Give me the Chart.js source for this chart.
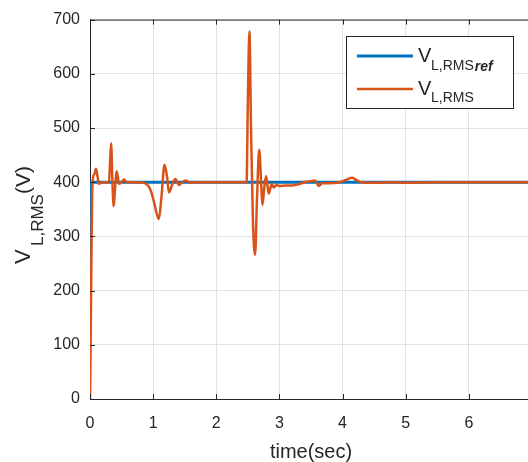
<!DOCTYPE html>
<html>
<head>
<meta charset="utf-8">
<script src="https://cdn.jsdelivr.net/npm/chart.js@4.4.0/dist/chart.umd.min.js"></script>
<style>
  html, body { margin: 0; padding: 0; background: #fff; overflow: hidden; width: 528px; height: 462px; }
  #wrap { position: absolute; left: 0; top: 0; width: 560px; height: 462px; }
</style>
</head>
<body>
<div id="wrap"><canvas id="chart" width="560" height="462"></canvas></div>
<script>
// reference RMS voltage
const refTime = [0, 0.005, 7.5];
const refVolt = [240, 400, 400];

// measured RMS voltage
const measTime = [0, 0.01, 0.02, 0.04, 0.07, 0.095, 0.12, 0.14, 0.2, 0.3, 0.315, 0.335, 0.355, 0.375, 0.395, 0.42, 0.44, 0.46, 0.5, 0.54, 0.58, 0.7, 0.84, 0.9, 0.95, 1.0, 1.05, 1.09, 1.13, 1.18, 1.22, 1.25, 1.3, 1.35, 1.41, 1.46, 1.52, 1.58, 1.7, 2.0, 2.3, 2.48, 2.5, 2.525, 2.55, 2.58, 2.615, 2.645, 2.68, 2.71, 2.73, 2.76, 2.79, 2.83, 2.88, 2.91, 2.95, 3.0, 3.1, 3.2, 3.3, 3.4, 3.5, 3.57, 3.62, 3.68, 3.8, 3.95, 4.05, 4.15, 4.22, 4.3, 4.5, 4.8, 5.0, 5.5, 6.0, 6.5, 7.0, 7.5];
const measVolt = [0, 100, 230, 400, 415, 425, 410, 397, 400, 400, 430, 472, 400, 356, 385, 420, 410, 397, 400, 405, 400, 400, 399, 396, 388, 370, 345, 332, 370, 432, 410, 381, 395, 406, 395, 400, 403, 399, 400, 400, 400, 400, 550, 678, 500, 330, 266, 370, 460, 400, 358, 390, 411, 379, 397, 390, 395, 393, 394, 394, 396, 400, 402, 403, 393, 398, 398, 400, 404, 408, 404, 400, 399, 400, 399, 400, 400, 400, 400, 400];

const xTicks = [0, 1, 2, 3, 4, 5, 6, 7];
const yTicks = [0, 100, 200, 300, 400, 500, 600, 700];

const BLUE = '#0072BD';
const ORANGE = '#D95319';
const AXIS = '#262626';
const GRID = '#e2e2e2';
const FONT = '"Liberation Sans", Arial, sans-serif';

const toPoints = (xs, ys) => xs.map((x, i) => ({ x, y: ys[i] }));

const decorPlugin = {
  id: 'decor',
  afterDraw(chart) {
    const { ctx, chartArea: a, scales } = chart;
    ctx.save();
    // top border and inner tick marks
    ctx.strokeStyle = AXIS;
    ctx.lineWidth = 1;
    ctx.beginPath();
    ctx.moveTo(a.left, a.top + 0.5);
    ctx.lineTo(a.right, a.top + 0.5);
    xTicks.forEach(t => {
      const px = Math.round(scales.x.getPixelForValue(t)) + 0.5;
      ctx.moveTo(px, a.bottom); ctx.lineTo(px, a.bottom - 5);
      ctx.moveTo(px, a.top); ctx.lineTo(px, a.top + 5);
    });
    yTicks.forEach(t => {
      const py = Math.round(scales.y.getPixelForValue(t)) + 0.5;
      ctx.moveTo(a.left, py); ctx.lineTo(a.left + 5, py);
    });
    ctx.stroke();

    // y axis title with subscript
    ctx.translate(30, 266);
    ctx.rotate(-Math.PI / 2);
    ctx.fillStyle = AXIS;
    ctx.textBaseline = 'alphabetic';
    ctx.font = '22px ' + FONT; ctx.fillText('V', 2, 0);
    ctx.font = '17px ' + FONT; ctx.fillText('L,RMS', 20, 13);
    ctx.font = '21px ' + FONT; ctx.fillText('(V)', 72, 0);
    ctx.restore();

    // legend
    ctx.save();
    ctx.fillStyle = '#fff';
    ctx.fillRect(346, 36, 167, 72);
    ctx.strokeStyle = AXIS;
    ctx.lineWidth = 1;
    ctx.strokeRect(346.5, 36.5, 167, 72);
    ctx.lineWidth = 3;
    ctx.strokeStyle = BLUE;
    ctx.beginPath(); ctx.moveTo(357, 56); ctx.lineTo(413, 56); ctx.stroke();
    ctx.lineWidth = 2.5;
    ctx.strokeStyle = ORANGE;
    ctx.beginPath(); ctx.moveTo(357, 89); ctx.lineTo(413, 89); ctx.stroke();
    ctx.fillStyle = AXIS;
    ctx.textBaseline = 'alphabetic';
    ctx.font = '20px ' + FONT; ctx.fillText('V', 418, 62);
    ctx.font = '14px ' + FONT; ctx.fillText('L,RMS', 431, 70);
    const wl = ctx.measureText('L,RMS').width;
    ctx.font = 'italic bold 14px ' + FONT; ctx.fillText('ref', 432 + wl, 71);
    ctx.font = '20px ' + FONT; ctx.fillText('V', 418, 95);
    ctx.font = '14px ' + FONT; ctx.fillText('L,RMS', 431, 102);
    ctx.restore();
  }
};

new Chart(document.getElementById('chart').getContext('2d'), {
  type: 'line',
  data: {
    datasets: [
      {
        label: 'V_L,RMSref',
        data: toPoints(refTime, refVolt),
        borderColor: BLUE,
        borderWidth: 3,
        pointRadius: 0,
        tension: 0,
        order: 2
      },
      {
        label: 'V_L,RMS',
        data: toPoints(measTime, measVolt),
        borderColor: ORANGE,
        borderWidth: 2.5,
        pointRadius: 0,
        cubicInterpolationMode: 'monotone',
        order: 1
      }
    ]
  },
  options: {
    responsive: false,
    animation: false,
    layout: { padding: { top: 17, right: 28, left: 0, bottom: 0 } },
    plugins: { legend: { display: false }, tooltip: { enabled: false } },
    scales: {
      x: {
        type: 'linear',
        min: 0, max: 7,
        afterFit(scale) { scale.height = 63; },
        afterBuildTicks(scale) { scale.ticks = xTicks.map(v => ({ value: v })); },
        ticks: { color: AXIS, font: { family: FONT, size: 16 }, padding: 15, maxRotation: 0 },
        grid: { color: GRID, drawTicks: false },
        border: { color: AXIS, width: 1 },
        title: { display: true, text: 'time(sec)', color: AXIS, font: { family: FONT, size: 20 }, padding: { top: 0, bottom: -2 } }
      },
      y: {
        min: 0, max: 700,
        afterFit(scale) { scale.width = 90; },
        afterBuildTicks(scale) { scale.ticks = yTicks.map(v => ({ value: v })); },
        ticks: { color: AXIS, font: { family: FONT, size: 16 }, padding: 10 },
        grid: { color: GRID, drawTicks: false },
        border: { color: AXIS, width: 1 }
      }
    }
  },
  plugins: [decorPlugin]
});
</script>
</body>
</html>
